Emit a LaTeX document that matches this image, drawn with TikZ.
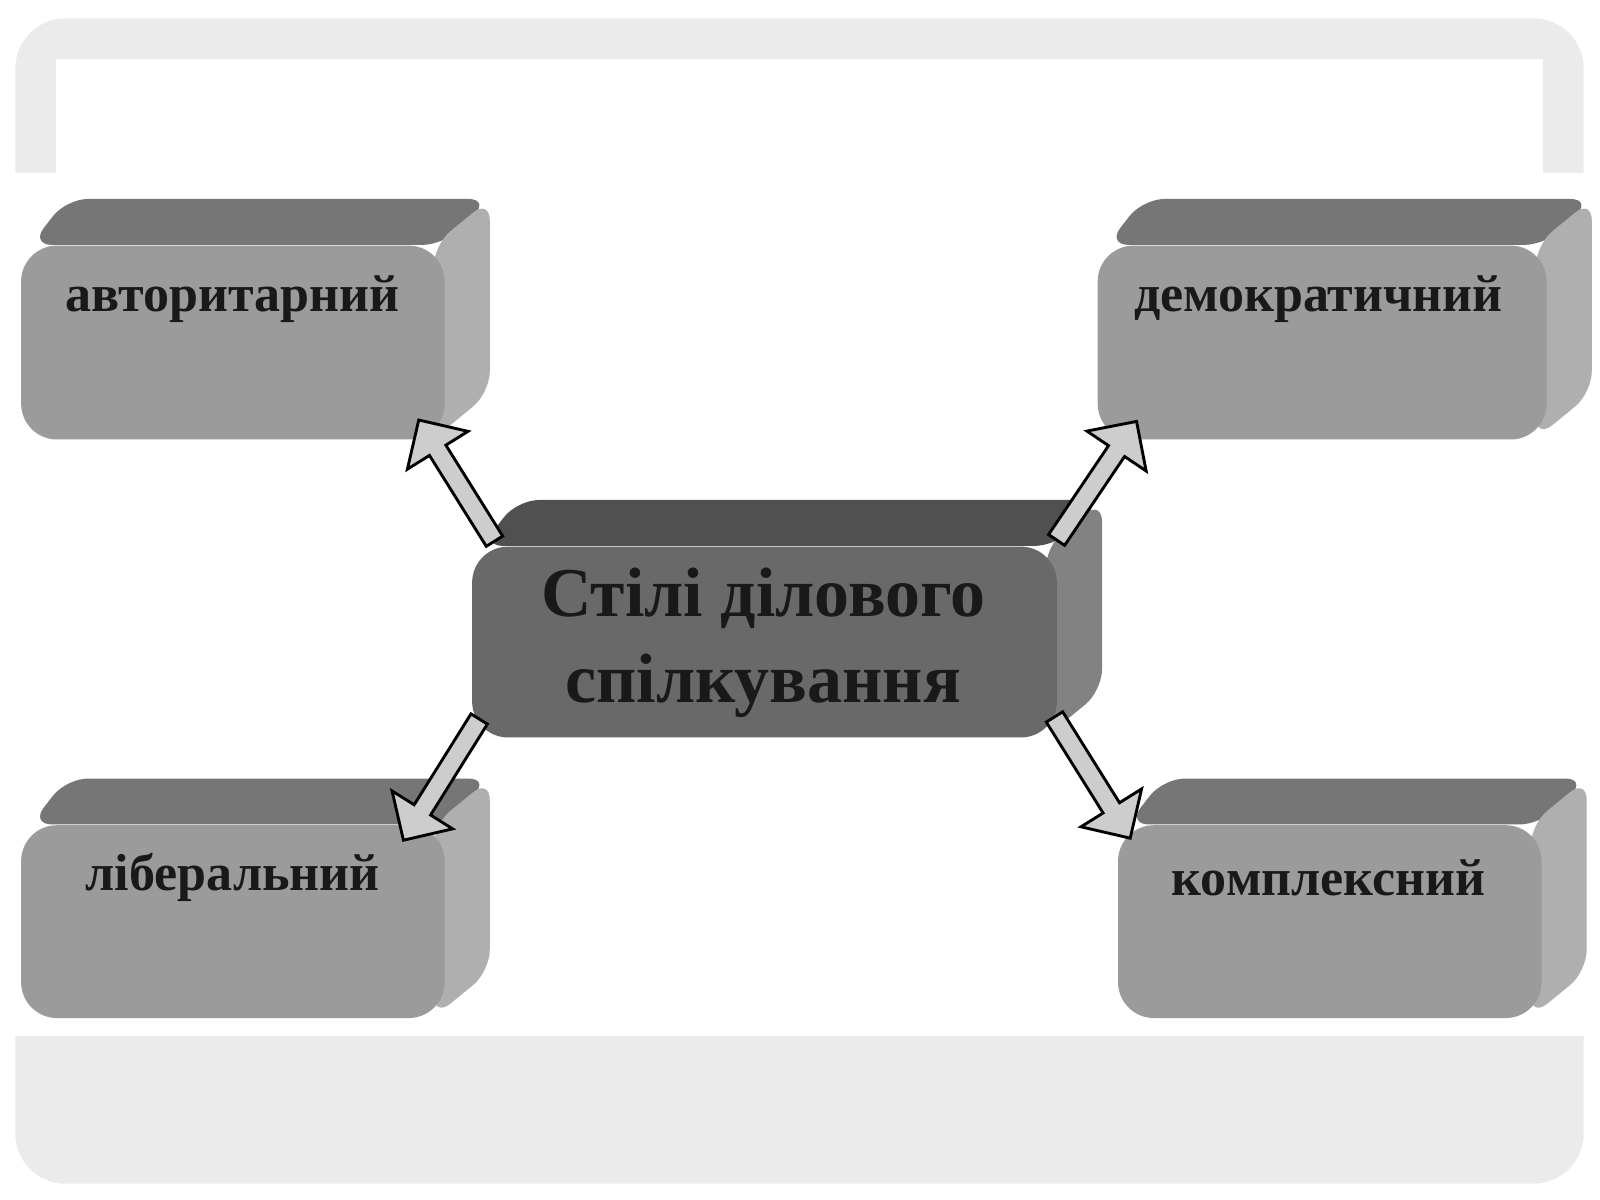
\documentclass[tikz,border=0pt]{standalone}
\usepackage{fontspec}
\setmainfont{Liberation Serif}
\usetikzlibrary{shapes.arrows}
\definecolor{framegray}{RGB}{235,235,235}
\definecolor{facegray}{RGB}{155,155,155}
\definecolor{topgray}{RGB}{118,118,118}
\definecolor{sidegray}{RGB}{175,175,175}
\definecolor{mainface}{RGB}{105,105,105}
\definecolor{maintop}{RGB}{80,80,80}
\definecolor{mainside}{RGB}{130,130,130}
\definecolor{arrowgray}{RGB}{205,205,205}
% 3D block: name, x1, y1, x2, y2, front, top, side
\newcommand{\blockbox}[8]{%
  \fill[#7, rounded corners=6pt] (#2+10,#3) -- (#2+45,#3-45) -- (#4+45,#3-45) -- (#4,#3) -- cycle;
  \fill[#8, rounded corners=6pt] (#4-10,#3) -- (#4+45,#3-45) -- (#4+45,#5-45) -- (#4-10,#5) -- cycle;
  \node[blockface, fill=#6, minimum width=(#4-#2)*0.01cm, minimum height=(#5-#3)*0.01cm,
        anchor=north west] (#1) at (#2,#3) {};
}
\tikzset{
  blockface/.style={rounded corners=10pt, inner sep=0pt},
  boxtext/.style={font=\bfseries\fontsize{14.5}{17}\selectfont, text=black!90},
  blockarrow/.style={single arrow, draw=black, fill=arrowgray, line width=0.8pt,
    minimum width=0.7cm, single arrow head extend=0.18cm, minimum height=1.4cm, inner sep=1.5pt}
}
\begin{document}
\begin{tikzpicture}[x=0.01cm,y=-0.01cm]
\useasboundingbox (0,0) rectangle (1568,1176);
\fill[white] (0,0) rectangle (1568,1176);
\fill[framegray, rounded corners=14pt] (15,18) rectangle (1552,1160);
\fill[white] (55,58) rectangle (1512,175);
\fill[white] (15,170) rectangle (1552,1015);

\blockbox{avt}{20}{240}{435}{430}{facegray}{topgray}{sidegray}
\blockbox{dem}{1075}{240}{1515}{430}{facegray}{topgray}{sidegray}
\blockbox{lib}{20}{808}{435}{997}{facegray}{topgray}{sidegray}
\blockbox{kom}{1095}{808}{1510}{997}{facegray}{topgray}{sidegray}
\blockbox{main}{462}{535}{1035}{722}{mainface}{maintop}{mainside}

\node[boxtext] at (228,293) {авторитарний};
\node[boxtext] at (1292,293) {демократичний};
\node[boxtext] at (228,860) {ліберальний};
\node[boxtext] at (1302,860) {комплексний};
\node[boxtext, font=\bfseries\fontsize{19.5}{24}\selectfont, align=center] at (748,630)
  {Стілі ділового\\спілкування};

\node[blockarrow, rotate=122] (a1) at (450,475) {};
\node[blockarrow, rotate=56] (a2) at (1072,475) {};
\node[blockarrow, rotate=238] (a3) at (435,760) {};
\node[blockarrow, rotate=302] (a4) at (1068,758) {};
\end{tikzpicture}
\end{document}
